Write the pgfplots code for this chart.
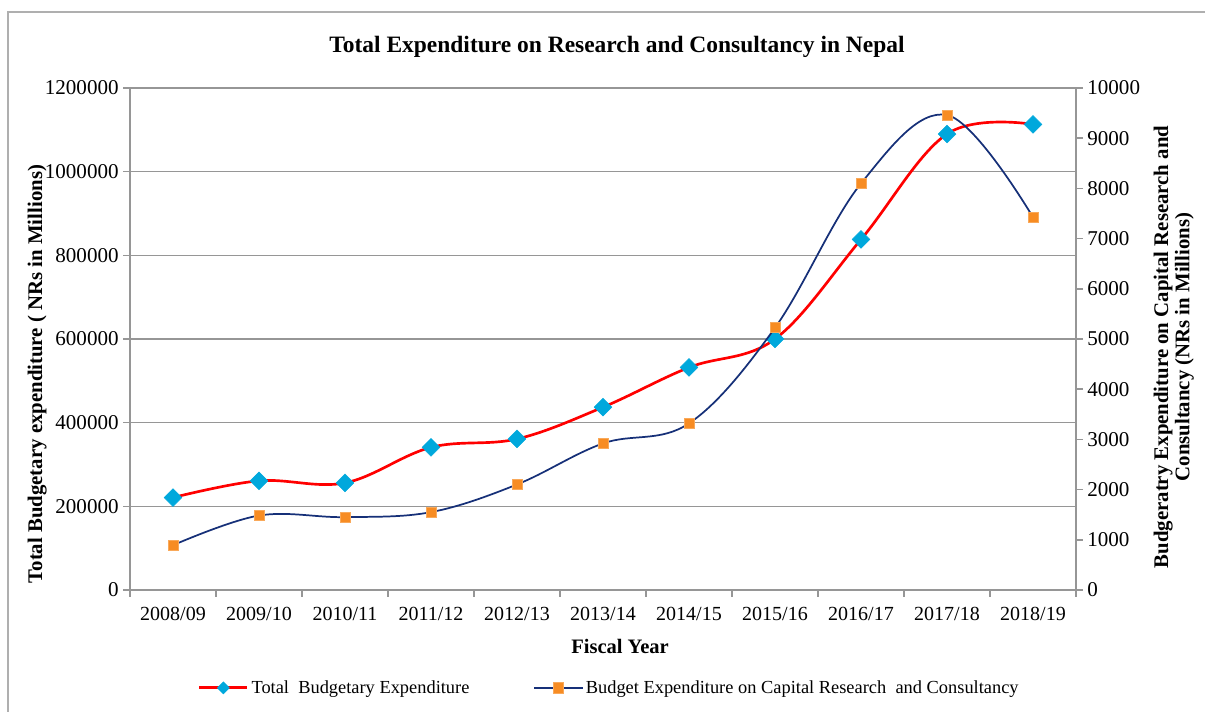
\documentclass[border=0pt]{standalone}
\usepackage{pgfplots}
\pgfplotsset{compat=1.18}
\usepackage{fontspec}
\setmainfont{Liberation Serif}
\definecolor{diamondblue}{RGB}{0,168,220}
\definecolor{sqorange}{RGB}{247,140,35}
\definecolor{navyline}{RGB}{22,48,120}
\definecolor{gridgray}{RGB}{150,150,150}
\definecolor{framegray}{RGB}{175,175,175}

\pgfplotstableread{
x total
0 221000
1 261000
2 256000
3 341000
4 361000
5 437000
6 532000
7 600000
8 838000
9 1090000
10 1113000
}\totaltable

\pgfplotstableread{
x capital
0 892
1 1483
2 1451
3 1551
4 2102
5 2920
6 3319
7 5224
8 8098
9 9461
10 7425
}\capitaltable

\pgfplotsset{
  commonaxis/.style={
    at={(97.5pt,91.5pt)}, anchor=south west,
    scale only axis, width=709.5pt, height=376.5pt,
    xmin=-0.5, xmax=10.5, ymin=0,
    /pgf/number format/assume math mode=true,
    scaled y ticks=false,
    yticklabel style={/pgf/number format/fixed, /pgf/number format/set thousands separator={}, font=\fontsize{15.8}{18}\selectfont},
    tick style={gridgray, line width=1.2pt},
    major tick length=5pt,
    axis line style={gridgray, line width=1.2pt},
    tick align=outside,
  },
  legend image code/.code={
    \draw[#1, mark repeat=2, mark phase=2] plot coordinates {(0pt,0pt)(18pt,0pt)(36pt,0pt)};
  },
}

\begin{document}
\begin{tikzpicture}
\clip (0,0) rectangle (903.75pt,534pt);
\draw[framegray, line width=1.3pt] (6pt,-20pt) -- (6pt,525.2pt) -- (920pt,525.2pt);
\node[font=\bfseries\fontsize{17.6}{21}\selectfont] at (462.75pt,499pt) {Total Expenditure on Research and Consultancy in Nepal};

\begin{axis}[
  commonaxis,
  ymax=1200000,
  axis y line*=left,
  axis x line*=bottom,
  ytick={0,200000,...,1200000},
  ymajorgrids,
  grid style={gridgray, line width=1.2pt},
  xtick={0,...,10},
  major x tick style={draw=none},
  xticklabels={2008/09,2009/10,2010/11,2011/12,2012/13,2013/14,2014/15,2015/16,2016/17,2017/18,2018/19},
  xticklabel style={font=\fontsize{15}{18}\selectfont, yshift=-4pt},
  minor xtick={-0.5,0.5,...,10.5},
  minor tick length=5pt,
  minor x tick style={gridgray, line width=1.2pt},
  xlabel={Fiscal Year},
  xlabel style={font=\bfseries\fontsize{15.4}{18}\selectfont, at={(axis description cs:0.518,-0.1135)}, anchor=center},
  ylabel={Total Budgetary expenditure ( NRs in Millions)},
  ylabel style={font=\bfseries\fontsize{15.6}{18}\selectfont, at={(axis description cs:-0.098,0.43)}, anchor=center},
]
\addplot[red, line width=2pt, smooth, tension=0.6, mark=square*, mark size=4.7pt,
  mark options={diamondblue, fill=diamondblue, rotate=45, line width=0.4pt, solid}]
  table[x=x, y=total] {\totaltable};
\end{axis}

\begin{axis}[
  commonaxis,
  ymax=10000,
  axis y line*=right,
  axis x line=none,
  ytick={0,1000,...,10000},
  ylabel={\begin{tabular}{c}Budgeratry Expenditure on Capital Research and\\[-2pt] Consultancy (NRs in Millions)\end{tabular}},
  ylabel style={font=\bfseries\fontsize{15.6}{18}\selectfont, at={(axis description cs:1.1036,0.484)}, anchor=center},
  legend style={at={(axis description cs:0.507,-0.195)}, anchor=center, draw=none, fill=none,
    legend columns=2, font=\fontsize{13.8}{16}\selectfont,
    /tikz/every even column/.append style={column sep=46pt}},
  legend cell align=left,
]
\addlegendimage{red, line width=2.2pt, mark=square*, mark size=3.2pt, mark options={diamondblue, fill=diamondblue, rotate=45, solid, line width=0.4pt}}
\addlegendentry{Total\ \ Budgetary Expenditure}
\addplot[navyline, line width=1.3pt, smooth, tension=0.6, mark=square*, mark size=3.8pt,
  mark options={draw=sqorange!75!white, fill=sqorange, solid, line width=0.5pt}]
  table[x=x, y=capital] {\capitaltable};
\addlegendentry{Budget Expenditure on Capital Research\ \ and Consultancy}
\end{axis}
\end{tikzpicture}
\end{document}
